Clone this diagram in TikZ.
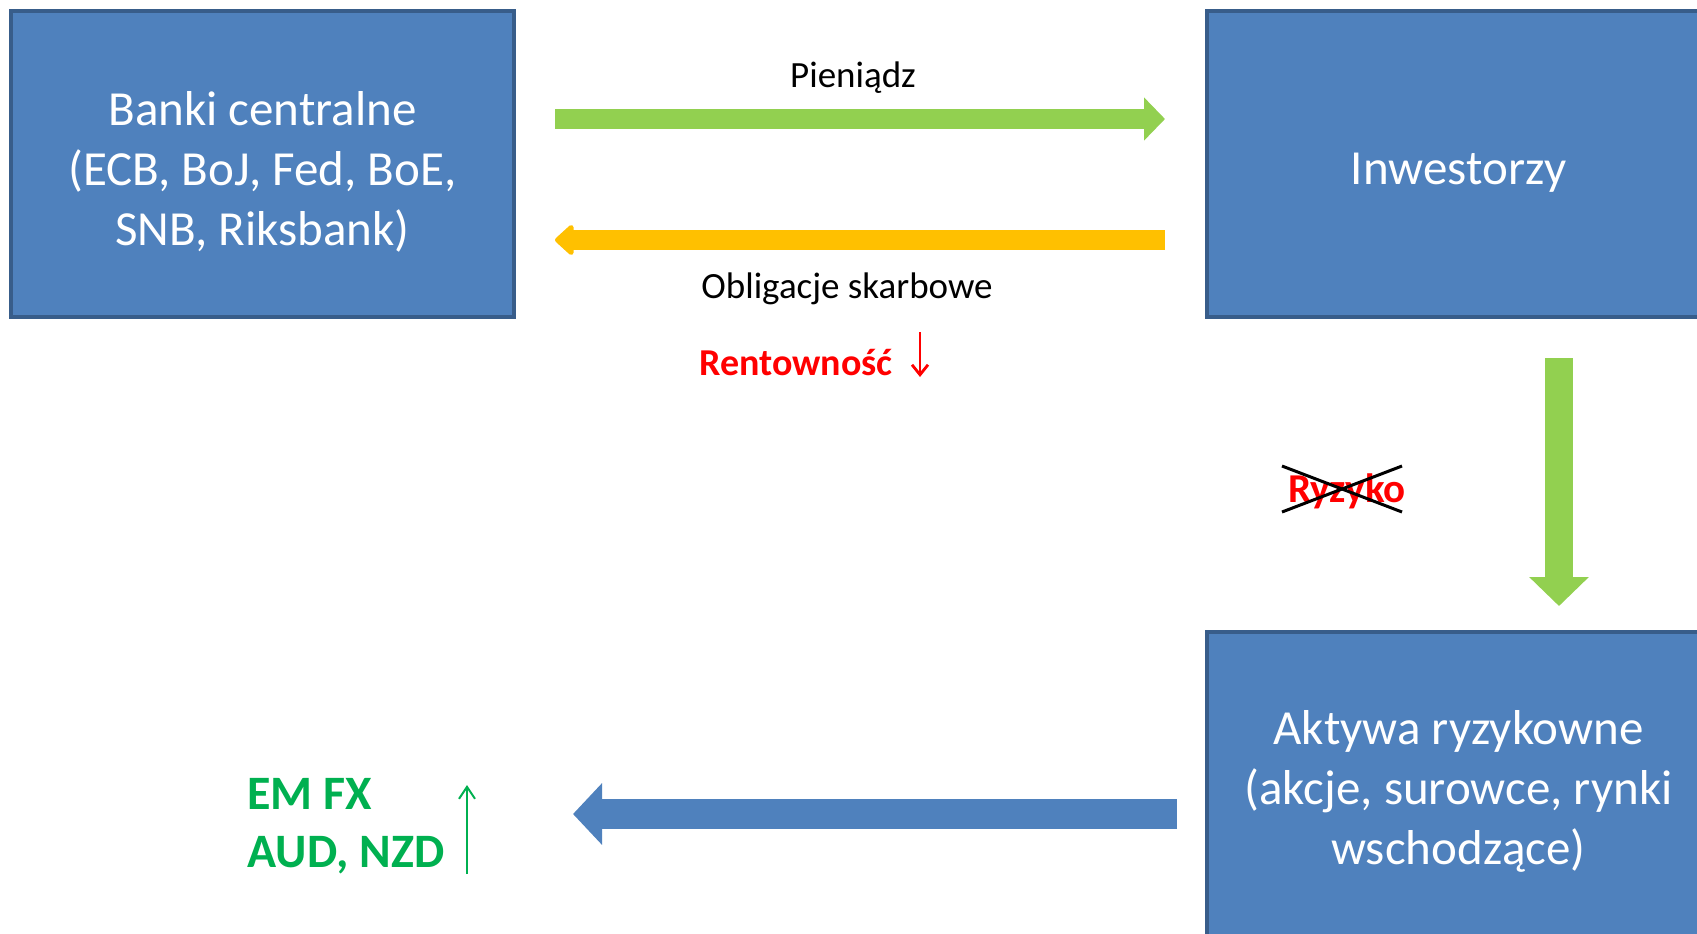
\documentclass[tikz,border=0pt]{standalone}
\usepackage{fontspec}
\setmainfont{Carlito}
\usetikzlibrary{arrows.meta}
\definecolor{boxfill}{HTML}{4F81BD}
\definecolor{boxline}{HTML}{385D8A}
\definecolor{arrgreen}{HTML}{92D050}
\definecolor{arryellow}{HTML}{FFC000}
\definecolor{txtgreen}{HTML}{00B050}
\definecolor{txtred}{HTML}{FF0000}
\tikzset{
  bigbox/.style={draw=boxline, fill=boxfill, line width=2pt,
    minimum width=251.5pt, minimum height=153pt, inner sep=0pt},
  boxtxt/.style={text=white, align=center, inner sep=0pt,
    font=\fontsize{24.5}{30}\selectfont},
  lbl/.style={inner sep=0pt, anchor=base, font=\fontsize{18.5}{22}\selectfont},
  redlbl/.style={inner sep=0pt, anchor=base west, text=txtred, font=\bfseries\fontsize{19}{23}\selectfont},
  greenlbl/.style={inner sep=0pt, anchor=base west, text=txtgreen, font=\bfseries\fontsize{24}{29}\selectfont},
}
\begin{document}
\begin{tikzpicture}[x=0.5pt,y=-0.5pt]
\clip (0,0) rectangle (1697,933);
\fill[white] (0,0) rectangle (1697,933);
% boxes
\node[bigbox] (banki) at (262.5,164) {};
\node[bigbox] (inw) at (1458.5,164) {};
\node[bigbox] (akt) at (1458.5,784.5) {};
\node[boxtxt] (bankit) at ([yshift=-4pt]banki.center) {Banki centralne\\(ECB, BoJ, Fed, BoE,\\SNB, Riksbank)};
\node[boxtxt] (inwt) at ([yshift=-4.5pt]inw.center) {Inwestorzy};
\node[boxtxt] (aktt) at ([yshift=-3.5pt]akt.center) {Aktywa ryzykowne\\(akcje, surowce, rynki\\wschodzące)};
% arrow endpoints
\coordinate (gS) at (555,119);
\coordinate (gE) at (1165,119);
\coordinate (yS) at (1165,240);
\coordinate (yE) at (555,240);
\coordinate (vS) at (1559,358);
\coordinate (vE) at (1559,606);
\coordinate (bS) at (1177,814);
\coordinate (bE) at (573,814);
\coordinate (rS) at (920,332);
\coordinate (rE) at (920,377);
\coordinate (tS) at (467,874);
\coordinate (tE) at (467,785);
% big arrows
\draw[arrgreen, line width=10pt, -{Triangle[length=10.5pt,width=21pt]}] (gS) -- (gE);
\draw[arryellow, line width=10pt, line join=round, -{Triangle[round,length=10pt,width=17.5pt]}] (yS) -- (yE);
\draw[arrgreen, line width=14pt, -{Triangle[length=14.5pt,width=29pt]}] (vS) -- (vE);
\draw[boxfill, line width=15pt, -{Triangle[length=14.5pt,width=30pt]}] (bS) -- (bE);
% labels
\node[lbl] (pien) at (853,87) {Pieniądz};
\node[lbl] (oblig) at (847,298) {Obligacje skarbowe};
\node[redlbl] (rent) at (699,375) {Rentowność};
\draw[txtred, line width=1.4pt, -{Straight Barb[length=5pt,width=8pt]}] (rS) -- (rE);
\node[inner sep=0pt, anchor=base, text=txtred, font=\bfseries\fontsize{20.5}{24}\selectfont] (ryz) at (1347,502) {Ryzyko};
\coordinate (x1) at (1282,466);
\coordinate (x2) at (1402,512);
\coordinate (x3) at (1282,512);
\coordinate (x4) at (1402,466);
\draw[black, line width=1.5pt] (x1) -- (x2);
\draw[black, line width=1.5pt] (x3) -- (x4);
\node[greenlbl] (emfx) at (247,809) {EM FX};
\node[greenlbl] (aud) at (247,867) {AUD, NZD};
\draw[txtgreen, line width=1pt, -{Straight Barb[length=6pt,width=8pt]}] (tS) -- (tE);
\end{tikzpicture}
\end{document}
